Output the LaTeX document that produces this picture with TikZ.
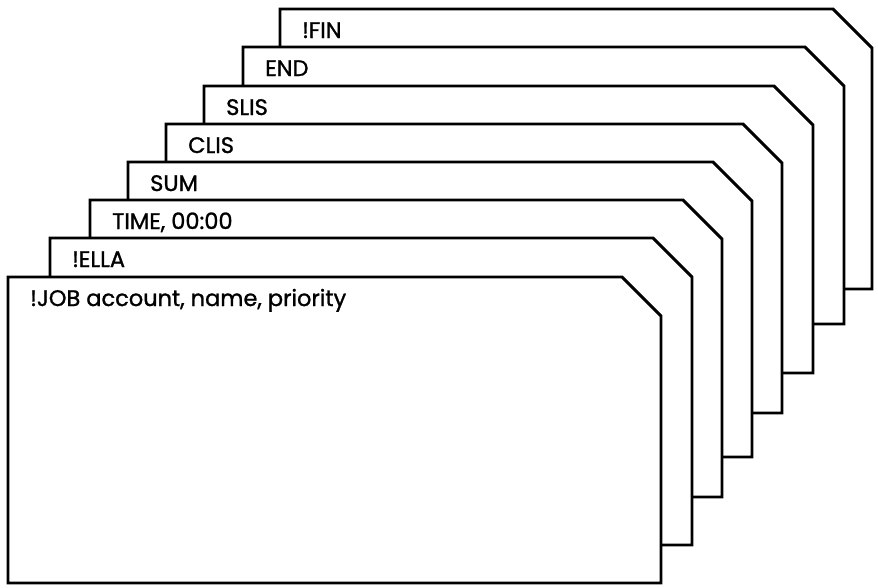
\documentclass[tikz,border=0pt]{standalone}
\usepackage{fontspec}
\setmainfont[FakeBold=1.2]{Poppins}
\begin{document}
\begin{tikzpicture}[x=1pt,y=-1pt,
  card/.style={draw=black,fill=white,line width=2.9pt,line join=miter},
  cardlabel/.style={anchor=base west,inner sep=0pt,font=\fontsize{22.5}{26}\selectfont}]
\useasboundingbox (0,0) rectangle (878,587);
% L, T, R, B, name, label  (drawn back to front)
\foreach \L/\T/\R/\B/\nm/\txt in {
  280/9/872/289/fin/{!FIN},
  243/47/844/324/end/{END},
  204/86/813/373/slis/{SLIS},
  166/124/782/413/clis/{CLIS},
  128/162/752/457/sum/{SUM},
  90/200/722/497/time/{TIME, 00:00},
  50/238/692/545/ella/{!ELLA},
  8/277/661/583/job/{!JOB account, name, priority}}{
  \draw[card] (\L,\B) -- (\L,\T) -- (\R-39,\T) -- (\R,\T+39) -- (\R,\B) -- cycle;
  \node[cardlabel] (\nm) at (\L+22,\T+29) {\txt};
}
\end{tikzpicture}
\end{document}
